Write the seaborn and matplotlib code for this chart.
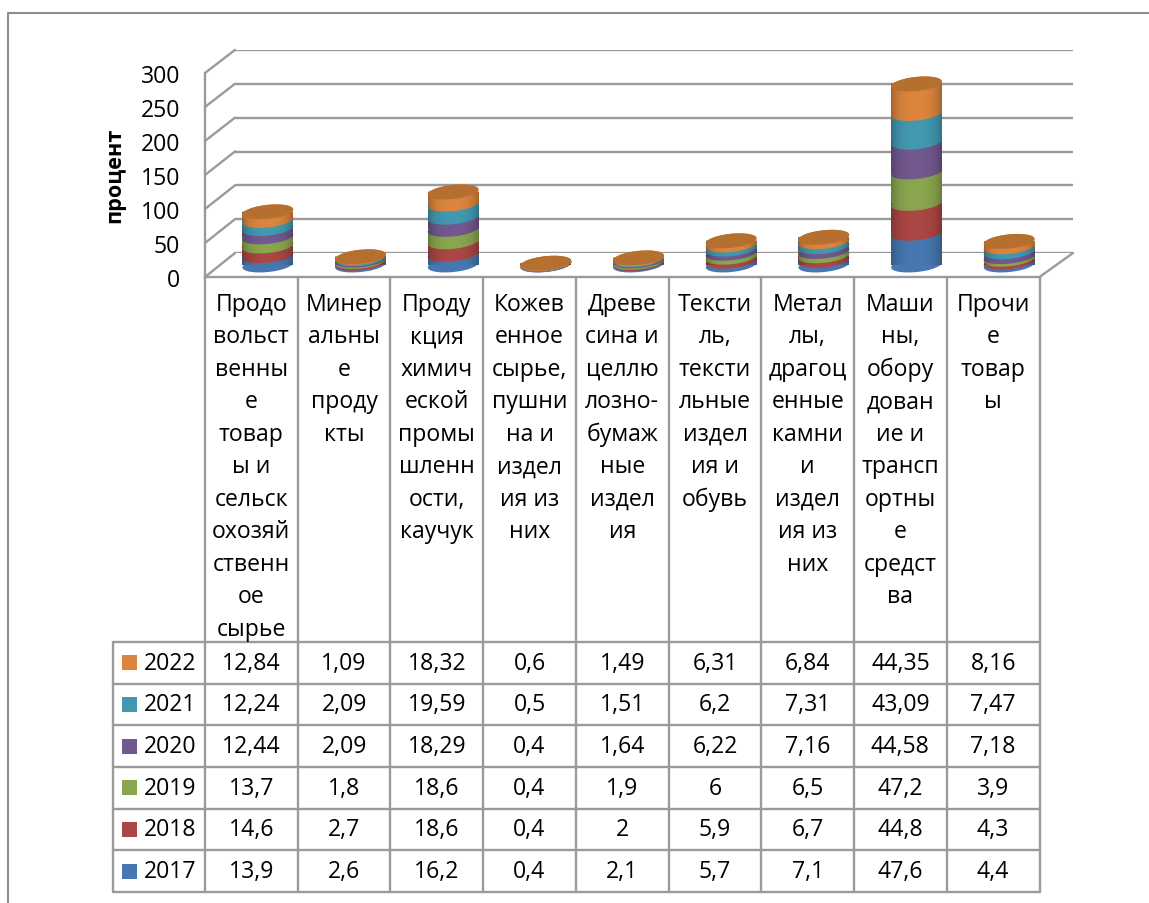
import numpy as np
import matplotlib
matplotlib.use('Agg')
import matplotlib.pyplot as plt
import seaborn as sns

W, H = 1149, 904

years = [2017, 2018, 2019, 2020, 2021, 2022]
colors = ['#4777B0', '#AA4643', '#89A54E', '#71588F', '#4198AF', '#DB843D']
cap_color = '#B5702F'

v2017 = [13.9, 2.6, 16.2, 0.4, 2.1, 5.7, 7.1, 47.6, 4.4]
v2018 = [14.6, 2.7, 18.6, 0.4, 2, 5.9, 6.7, 44.8, 4.3]
v2019 = [13.7, 1.8, 18.6, 0.4, 1.9, 6, 6.5, 47.2, 3.9]
v2020 = [12.44, 2.09, 18.29, 0.4, 1.64, 6.22, 7.16, 44.58, 7.18]
v2021 = [12.24, 2.09, 19.59, 0.5, 1.51, 6.2, 7.31, 43.09, 7.47]
v2022 = [12.84, 1.09, 18.32, 0.6, 1.49, 6.31, 6.84, 44.35, 8.16]
series = [v2017, v2018, v2019, v2020, v2021, v2022]

# категории как они переносятся в ячейках таблицы
cat_lines = [
    ['Продо', 'вольст', 'венны', 'е', 'товар', 'ы и', 'сельск', 'охозяй', 'ственн', 'ое', 'сырье'],
    ['Минер', 'альны', 'е', 'проду', 'кты'],
    ['Проду', 'кция', 'химич', 'еской', 'промы', 'шленн', 'ости,', 'каучук'],
    ['Кожев', 'енное', 'сырье,', 'пушни', 'на и', 'издел', 'ия из', 'них'],
    ['Древе', 'сина и', 'целлю', 'лозно-', 'бумаж', 'ные', 'издел', 'ия'],
    ['Тексти', 'ль,', 'тексти', 'льные', 'издел', 'ия и', 'обувь'],
    ['Метал', 'лы,', 'драгоц', 'енные', 'камни', 'и', 'издел', 'ия из', 'них'],
    ['Маши', 'ны,', 'обору', 'дован', 'ие и', 'трансп', 'ортны', 'е', 'средст', 'ва'],
    ['Прочи', 'е', 'товар', 'ы'],
]
categories = [''.join(c) for c in cat_lines]
y_ticks = [0, 50, 100, 150, 200, 250, 300]

sns.set_theme(style='white')
plt.rcParams['font.family'] = ['Open Sans', 'DejaVu Sans']
fs = 16.6
line_col = '#9A9A9A'
lw = 1.7

fig = plt.figure(figsize=(W / 100, H / 100), dpi=100, facecolor='white')


def px_axes(x0, y0, x1, y1, z):
    a = fig.add_axes([x0 / W, 1 - y1 / H, (x1 - x0) / W, (y1 - y0) / H], zorder=z)
    a.patch.set_alpha(0)
    return a


# рамка, таблица и скошенные линии
page = px_axes(0, 0, W, H, 0)
page.set_xlim(0, W)
page.set_ylim(H, 0)
page.axis('off')
page.plot([8, 8, W], [H, 13.5, 13.5], color='#8C8C8C', lw=1.5)

col_x = np.linspace(205, 1039.5, 10)
row_y = np.linspace(643, 893, 7)
for i, x in enumerate(col_x):
    page.plot([x, x], [278, 893], color=line_col, lw=lw, zorder=1)
page.plot([113, 113], [643, 893], color=line_col, lw=lw)
for y in row_y:
    page.plot([113, col_x[-1]], [y, y], color=line_col, lw=lw)

front_y = 278 - np.array(y_ticks) * 0.68
back_y = 254 - np.array(y_ticks) * 0.677
for fy, by in zip(front_y, back_y):
    page.plot([205, 235], [fy, by], color=line_col, lw=lw)
page.plot([205, col_x[-1], 1073], [278, 278, 254], color=line_col, lw=lw)

for i, lines in enumerate(cat_lines):
    xc = (col_x[i] + col_x[i + 1]) / 2
    for j, s in enumerate(lines):
        page.text(xc, 305 + 32.5 * j, s, ha='center', va='center', fontsize=fs, color='black')

for r, (yr, col, vals) in enumerate(zip(years[::-1], colors[::-1], series[::-1])):
    yc = (row_y[r] + row_y[r + 1]) / 2
    page.fill([122, 137, 137, 122], [yc - 7.5, yc - 7.5, yc + 7.5, yc + 7.5], color=col, lw=0)
    page.text(170, yc, str(yr), ha='center', va='center', fontsize=fs, color='black')
    for i, v in enumerate(vals):
        xc = (col_x[i] + col_x[i + 1]) / 2
        page.text(xc, yc, f'{v:g}'.replace('.', ','), ha='center', va='center', fontsize=fs, color='black')

page.text(115, 175, 'процент', rotation=90, ha='center', va='center', fontsize=15.6, fontweight='bold', color='black')

# задняя стенка с сеткой
back = px_axes(235, 51, 1073, 254, 1)
back.set_ylim(0, 300)
back.set_yticks(y_ticks)
back.set_xticks([])
back.set_yticklabels([])
back.grid(axis='y', color=line_col, lw=lw)
back.tick_params(length=0)
sns.despine(ax=back, left=True, bottom=True)

# передняя ось значений
front = px_axes(205, 74, 1039.5, 278, 2)
front.set_ylim(0, 300)
front.set_yticks(y_ticks)
front.set_xticks([])
front.tick_params(axis='y', length=0, pad=25 * 0.72, labelsize=fs, labelcolor='black')
front.spines['left'].set_color(line_col)
front.spines['left'].set_linewidth(lw)
sns.despine(ax=front, bottom=True)

# цилиндры
bars = px_axes(221.5, 66, 1055.5, 266, 3)
sx = (1055.5 - 221.5) / 9
sy = (266 - 66) / 300
bar_w = 0.55
a_px, b_px, tilt = 25.5, 7, np.radians(6)


def ellipse(ax, xc, val, color, z):
    t = np.linspace(0, 2 * np.pi, 80)
    dx = a_px * np.cos(t) * np.cos(tilt) - b_px * np.sin(t) * np.sin(tilt)
    dy = a_px * np.cos(t) * np.sin(tilt) + b_px * np.sin(t) * np.cos(tilt)
    ax.fill(xc + dx / sx, val + dy / sy, color=color, lw=0, zorder=z, clip_on=False)


bottoms = np.zeros(len(categories))
for col, vals in zip(colors, series):
    vals = np.array(vals, dtype=float)
    sns.barplot(x=categories, y=vals, bottom=bottoms, color=col, saturation=1,
                width=bar_w, linewidth=0, ax=bars, zorder=1)
    for i in range(len(categories)):
        ellipse(bars, i, bottoms[i], col, 1)
        ellipse(bars, i, bottoms[i] + vals[i], col, 1)
    bottoms = bottoms + vals

shade = np.zeros((1, 64, 4))
shade[0, :, 3] = 0.24 * np.abs(np.linspace(-1, 1, 64)) ** 3
for i, total in enumerate(bottoms):
    bars.imshow(shade, extent=[i - bar_w / 2, i + bar_w / 2, 0, total], aspect='auto',
                interpolation='bilinear', zorder=2)
    ellipse(bars, i, total, cap_color, 3)

bars.set_xlim(-0.5, 8.5)
bars.set_ylim(0, 300)
bars.axis('off')

fig.savefig('out.png', dpi=100)
